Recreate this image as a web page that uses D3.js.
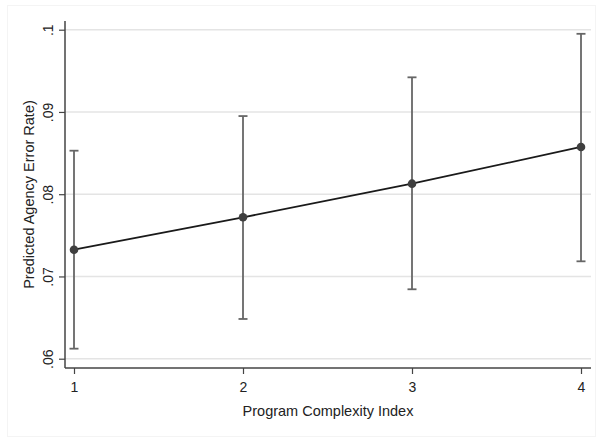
<!DOCTYPE html>
<html>
<head>
<meta charset="utf-8">
<script src="https://cdn.jsdelivr.net/npm/d3@7/dist/d3.min.js"></script>
<style>
  html, body { margin: 0; padding: 0; background: #fff; }
  text { font-family: "Liberation Sans", Arial, sans-serif; fill: #222; }
</style>
</head>
<body>
<svg id="chart" width="601" height="439"></svg>
<script>
// Margins at each level of the program complexity index
const categories = [1, 2, 3, 4];
const predicted = [0.07325, 0.07719, 0.08128, 0.08574];
const lowerCI = [0.06122, 0.06483, 0.06844, 0.07184];
const upperCI = [0.08529, 0.08950, 0.09421, 0.09950];
const yTicks = [0.06, 0.07, 0.08, 0.09, 0.1];
const yTickLabels = [".06", ".07", ".08", ".09", ".1"];

const svg = d3.select("#chart");

// faint outer frame
svg.append("rect")
  .attr("x", 7.5).attr("y", 5.5).attr("width", 588).attr("height", 431)
  .attr("fill", "none").attr("stroke", "#f4f4f4").attr("stroke-width", 1);

const plotLeft = 65, plotRight = 591, plotTop = 21, plotBottom = 368;

const x = d3.scaleLinear().domain([1, 4]).range([74, 581]);
const y = d3.scaleLinear().domain([0.06, 0.1]).range([358.7, 29.7]);

// horizontal grid
svg.append("g").selectAll("line").data(yTicks).join("line")
  .attr("x1", plotLeft).attr("x2", plotRight)
  .attr("y1", d => y(d)).attr("y2", d => y(d))
  .attr("stroke", "#e4e4e4").attr("stroke-width", 1.5);

// y axis
const yAxis = d3.axisLeft(y).tickValues(yTicks)
  .tickFormat((d, i) => yTickLabels[i]).tickSize(6).tickPadding(4);
const gy = svg.append("g").attr("transform", `translate(${plotLeft},0)`).call(yAxis);
gy.select(".domain").attr("d", `M0,${plotTop}V${plotBottom}`).attr("stroke", "#444").attr("stroke-width", 1.5);
gy.selectAll(".tick line").attr("stroke", "#444").attr("stroke-width", 1.2);
gy.selectAll(".tick text")
  .attr("font-size", 14).attr("fill", "#222")
  .attr("text-anchor", "middle")
  .attr("transform", "rotate(-90)")
  .attr("x", 0).attr("y", -12).attr("dy", "0");

// x axis
const xAxis = d3.axisBottom(x).tickValues(categories)
  .tickFormat(d3.format("d")).tickSize(6).tickPadding(8);
const gx = svg.append("g").attr("transform", `translate(0,${plotBottom})`).call(xAxis);
gx.select(".domain").attr("d", `M${plotLeft},0H${plotRight}`).attr("stroke", "#444").attr("stroke-width", 1.5);
gx.selectAll(".tick line").attr("stroke", "#444").attr("stroke-width", 1.2);
gx.selectAll(".tick text").attr("font-size", 14).attr("fill", "#222");

// axis titles
svg.append("text")
  .attr("x", 328).attr("y", 416)
  .attr("text-anchor", "middle").attr("font-size", 14.5)
  .text("Program Complexity Index");
svg.append("text")
  .attr("transform", `translate(34,${(plotTop + plotBottom) / 2}) rotate(-90)`)
  .attr("text-anchor", "middle").attr("font-size", 14.5)
  .text("Predicted Agency Error Rate)");

// confidence intervals
const ci = svg.append("g").attr("stroke", "#666").attr("stroke-width", 1.8);
ci.selectAll("line.v").data(categories).join("line").attr("class", "v")
  .attr("x1", d => x(d)).attr("x2", d => x(d))
  .attr("y1", (d, i) => y(lowerCI[i])).attr("y2", (d, i) => y(upperCI[i]));
ci.selectAll("line.cap-hi").data(categories).join("line").attr("class", "cap-hi")
  .attr("x1", d => x(d) - 4.5).attr("x2", d => x(d) + 4.5)
  .attr("y1", (d, i) => y(upperCI[i])).attr("y2", (d, i) => y(upperCI[i]));
ci.selectAll("line.cap-lo").data(categories).join("line").attr("class", "cap-lo")
  .attr("x1", d => x(d) - 4.5).attr("x2", d => x(d) + 4.5)
  .attr("y1", (d, i) => y(lowerCI[i])).attr("y2", (d, i) => y(lowerCI[i]));

// predicted line
const line = d3.line().x(d => x(d[0])).y(d => y(d[1]));
svg.append("path")
  .datum(categories.map((c, i) => [c, predicted[i]]))
  .attr("d", line).attr("fill", "none")
  .attr("stroke", "#1a1a1a").attr("stroke-width", 1.8);

// markers
svg.append("g").selectAll("circle").data(categories).join("circle")
  .attr("cx", d => x(d)).attr("cy", (d, i) => y(predicted[i]))
  .attr("r", 4.3).attr("fill", "#3f3f3f");
</script>
</body>
</html>
